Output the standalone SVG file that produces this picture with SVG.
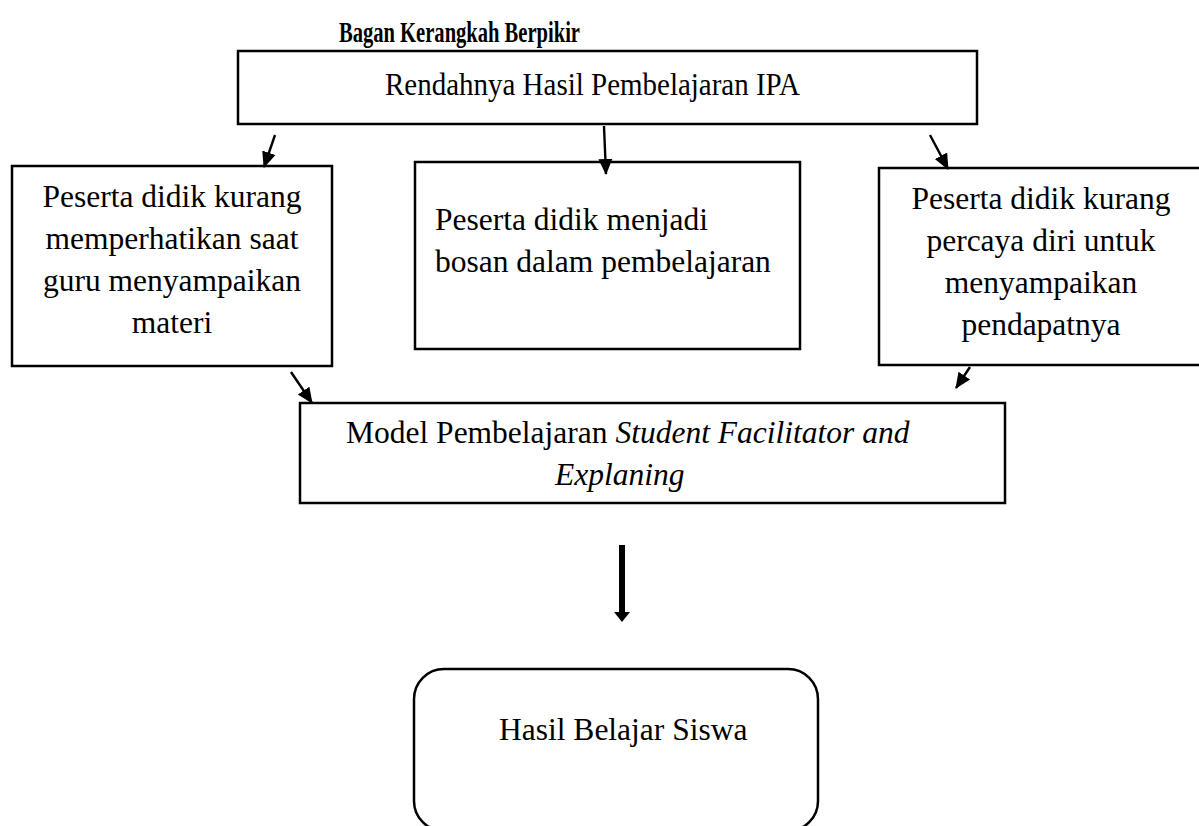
<svg xmlns="http://www.w3.org/2000/svg" width="1199" height="826" viewBox="0 0 1199 826">
<style>
.box{fill:#fff;stroke:#000;stroke-width:2.5}
.t{font-family:"Liberation Serif","Times New Roman",serif;font-size:31.5px;fill:#000}
.c{text-anchor:middle}
.i{font-style:italic}
.title{font-family:"Liberation Serif","Times New Roman",serif;font-size:30px;font-weight:bold;fill:#000}
.con{stroke:#000;stroke-width:2.4;fill:none;marker-end:url(#ah)}
</style>
<defs>
<marker id="ah" markerUnits="userSpaceOnUse" markerWidth="16" markerHeight="16" viewBox="0 0 16 16" refX="15" refY="8" orient="auto">
<path d="M0,1 L16,8 L0,15 Z" fill="#000"/>
</marker>
</defs>
<rect width="1199" height="826" fill="#fff"/>
<text class="title" x="339" y="42" textLength="241" lengthAdjust="spacingAndGlyphs">Bagan Kerangkah Berpikir</text>
<g id="n-top">
<rect class="box" x="238" y="51" width="739" height="73"/>
<text class="t" x="385" y="95" textLength="415" lengthAdjust="spacingAndGlyphs">Rendahnya Hasil Pembelajaran IPA</text>
</g>
<g id="n-left">
<rect class="box" x="12" y="166" width="320" height="200"/>
<text class="t c" x="172" y="207">Peserta didik kurang</text>
<text class="t c" x="172" y="249">memperhatikan saat</text>
<text class="t c" x="172" y="291">guru menyampaikan</text>
<text class="t c" x="172" y="333">materi</text>
</g>
<g id="n-mid">
<rect class="box" x="415" y="162" width="385" height="187"/>
<text class="t" x="435" y="230">Peserta didik menjadi</text>
<text class="t" x="435" y="272">bosan dalam pembelajaran</text>
</g>
<g id="n-right">
<rect class="box" x="879" y="168" width="322" height="197"/>
<text class="t c" x="1041" y="209">Peserta didik kurang</text>
<text class="t c" x="1041" y="251">percaya diri untuk</text>
<text class="t c" x="1041" y="293">menyampaikan</text>
<text class="t c" x="1041" y="335">pendapatnya</text>
</g>
<g id="n-model">
<rect class="box" x="300" y="403" width="705" height="100"/>
<text class="t" x="346" y="443">Model Pembelajaran <tspan class="i">Student Facilitator and</tspan></text>
<text class="t i" x="555" y="485">Explaning</text>
</g>
<g id="n-result">
<rect class="box" x="414" y="669" width="404" height="162" rx="30" ry="30"/>
<text class="t" x="499" y="740">Hasil Belajar Siswa</text>
</g>
<g id="connectors">
<line class="con" x1="275" y1="135" x2="264" y2="167"/>
<line class="con" x1="604" y1="126" x2="606" y2="174"/>
<line class="con" x1="930" y1="135" x2="948" y2="169"/>
<line class="con" x1="291" y1="372" x2="312" y2="403"/>
<line class="con" x1="970" y1="367" x2="956" y2="388"/>
<line x1="622" y1="545" x2="622" y2="614" stroke="#000" stroke-width="6"/>
<path d="M614,612 L630,612 L622,622 Z" fill="#000"/>
</g>
</svg>
